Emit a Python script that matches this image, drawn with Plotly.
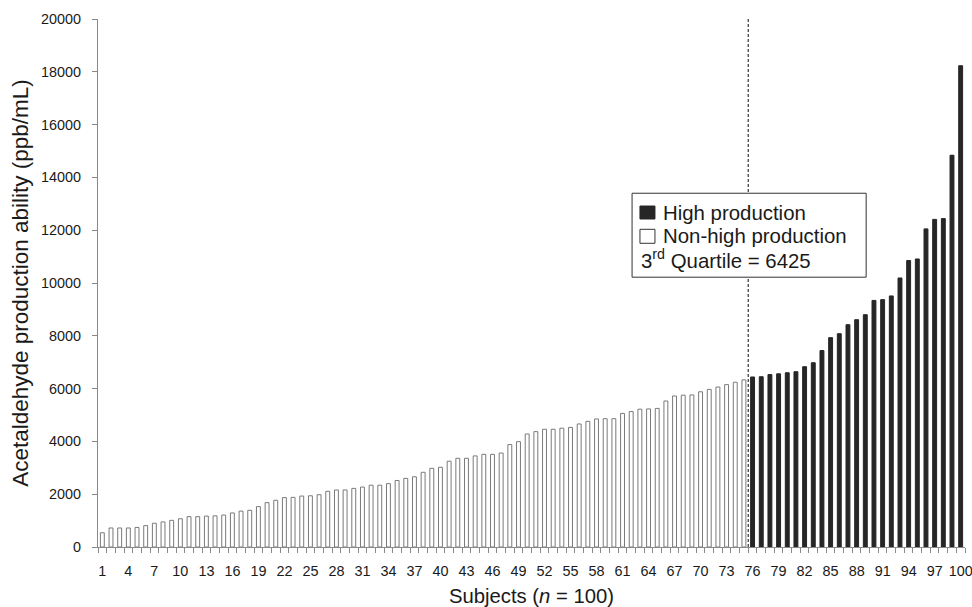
import plotly.graph_objects as go

# ---------------- data ----------------
non_high_subjects = list(range(1, 76))
non_high_values = [
    540, 720, 720, 720, 740, 810, 900, 950, 1010, 1070,
    1150, 1150, 1170, 1180, 1210, 1290, 1360, 1390, 1530, 1680,
    1770, 1870, 1880, 1930, 1940, 1980, 2110, 2160, 2160, 2220,
    2270, 2340, 2340, 2400, 2520, 2600, 2660, 2830, 2980, 3020,
    3250, 3360, 3360, 3450, 3510, 3510, 3560, 3880, 3990, 4280,
    4370, 4460, 4460, 4500, 4530, 4660, 4760, 4850, 4860, 4860,
    5060, 5130, 5220, 5230, 5250, 5530, 5720, 5750, 5760, 5880,
    5970, 6060, 6150, 6240, 6330,
]
high_subjects = list(range(76, 101))
high_values = [
    6440, 6450, 6530, 6560, 6600, 6640, 6830, 6980, 7440, 7930,
    8080, 8420, 8610, 8800, 9340, 9370, 9510, 10190, 10850, 10910,
    12050, 12410, 12440, 14840, 18230,
]
third_quartile = 6425
quartile_position = 75.5
x_tick_vals = [1, 4, 7, 10, 13, 16, 19, 22, 25, 28, 31, 34, 37, 40, 43, 46, 49,
               52, 55, 58, 61, 64, 67, 70, 73, 76, 79, 82, 85, 88, 91, 94, 97, 100]
y_tick_vals = [0, 2000, 4000, 6000, 8000, 10000, 12000, 14000, 16000, 18000, 20000]
y_tick_text = ["0", "2000", "4000", "6000", "8000", "10000", "12000", "14000",
               "16000", "18000", "20000"]
category_boundaries = [i + 0.5 for i in range(0, 101)]

FONT = "Liberation Sans, Arial, sans-serif"
TXT = "#1a1a1a"
AX = "#8a8a8a"

fig = go.Figure()
fig.add_trace(go.Bar(
    x=non_high_subjects, y=non_high_values, width=0.45,
    marker=dict(color="white", line=dict(color="#7a7a7a", width=1)),
    name="Non-high production", showlegend=False,
))
fig.add_trace(go.Bar(
    x=high_subjects, y=high_values, width=0.45,
    marker=dict(color="#262626", line=dict(color="#262626", width=1)),
    name="High production", showlegend=False,
))

# dashed 3rd quartile separator
fig.add_shape(type="line", xref="x", yref="y",
              x0=quartile_position, x1=quartile_position, y0=0, y1=20000,
              line=dict(color="#333333", width=1.2, dash="3px,2px"))

# legend box (manual)
fig.add_shape(type="rect", xref="paper", yref="paper",
              x0=0.616, x1=0.886, y0=0.511, y1=0.670,
              line=dict(color="#333333", width=1), fillcolor="white", layer="above")
fig.add_shape(type="rect", xref="paper", yref="paper",
              x0=0.6251, x1=0.6424, y0=0.6212, y1=0.6458,
              line=dict(color="#262626", width=1), fillcolor="#262626", layer="above")
fig.add_shape(type="rect", xref="paper", yref="paper",
              x0=0.6251, x1=0.6424, y0=0.5752, y1=0.6017,
              line=dict(color="#333333", width=1), fillcolor="white", layer="above")
legend_font = dict(family=FONT, size=20.4, color=TXT)
fig.add_annotation(xref="paper", yref="paper", x=0.6495, y=0.6335,
                   xanchor="left", yanchor="middle", showarrow=False,
                   text="High production", font=legend_font)
fig.add_annotation(xref="paper", yref="paper", x=0.6495, y=0.5885,
                   xanchor="left", yanchor="middle", showarrow=False,
                   text="Non-high production", font=legend_font)
fig.add_annotation(xref="paper", yref="paper", x=0.6245, y=0.545,
                   xanchor="left", yanchor="middle", showarrow=False,
                   text=f"3<sup>rd</sup> Quartile = {third_quartile}", font=legend_font)

fig.update_layout(
    width=972, height=607,
    margin=dict(l=98, r=7, t=19, b=60),
    paper_bgcolor="white", plot_bgcolor="white",
    bargap=0.55,
    font=dict(family=FONT, color=TXT),
)
fig.update_xaxes(
    automargin=False,
    range=[0.5, 100.5], tickmode="array", tickvals=x_tick_vals,
    ticktext=[str(v) for v in x_tick_vals],
    ticks="outside", ticklen=11, tickcolor="rgba(0,0,0,0)",
    ticklabeloverflow="allow",
    minor=dict(tickmode="array", tickvals=category_boundaries, ticks="outside",
               ticklen=5, tickcolor=AX, tickwidth=1),
    showline=True, linecolor=AX, linewidth=1, showgrid=False, zeroline=False,
    tickfont=dict(family=FONT, size=14.4, color=TXT),
    title=dict(text="Subjects (<i>n</i> = 100)", standoff=12,
               font=dict(family=FONT, size=20.3, color=TXT)),
)
fig.update_yaxes(
    automargin=False,
    range=[0, 20000], tickmode="array", tickvals=y_tick_vals, ticktext=y_tick_text,
    ticks="outside", ticklen=5, tickcolor=AX, ticklabelstandoff=8,
    showline=True, linecolor=AX, linewidth=1, showgrid=False, zeroline=False,
    tickfont=dict(family=FONT, size=14.4, color=TXT),
    title=dict(text="Acetaldehyde production ability (ppb/mL)", standoff=6,
               font=dict(family=FONT, size=22.5, color=TXT)),
)

fig.write_html(
    "out.html",
    config={"displayModeBar": False},
    post_script="document.body.style.margin='0';document.body.style.overflow='hidden';",
)
